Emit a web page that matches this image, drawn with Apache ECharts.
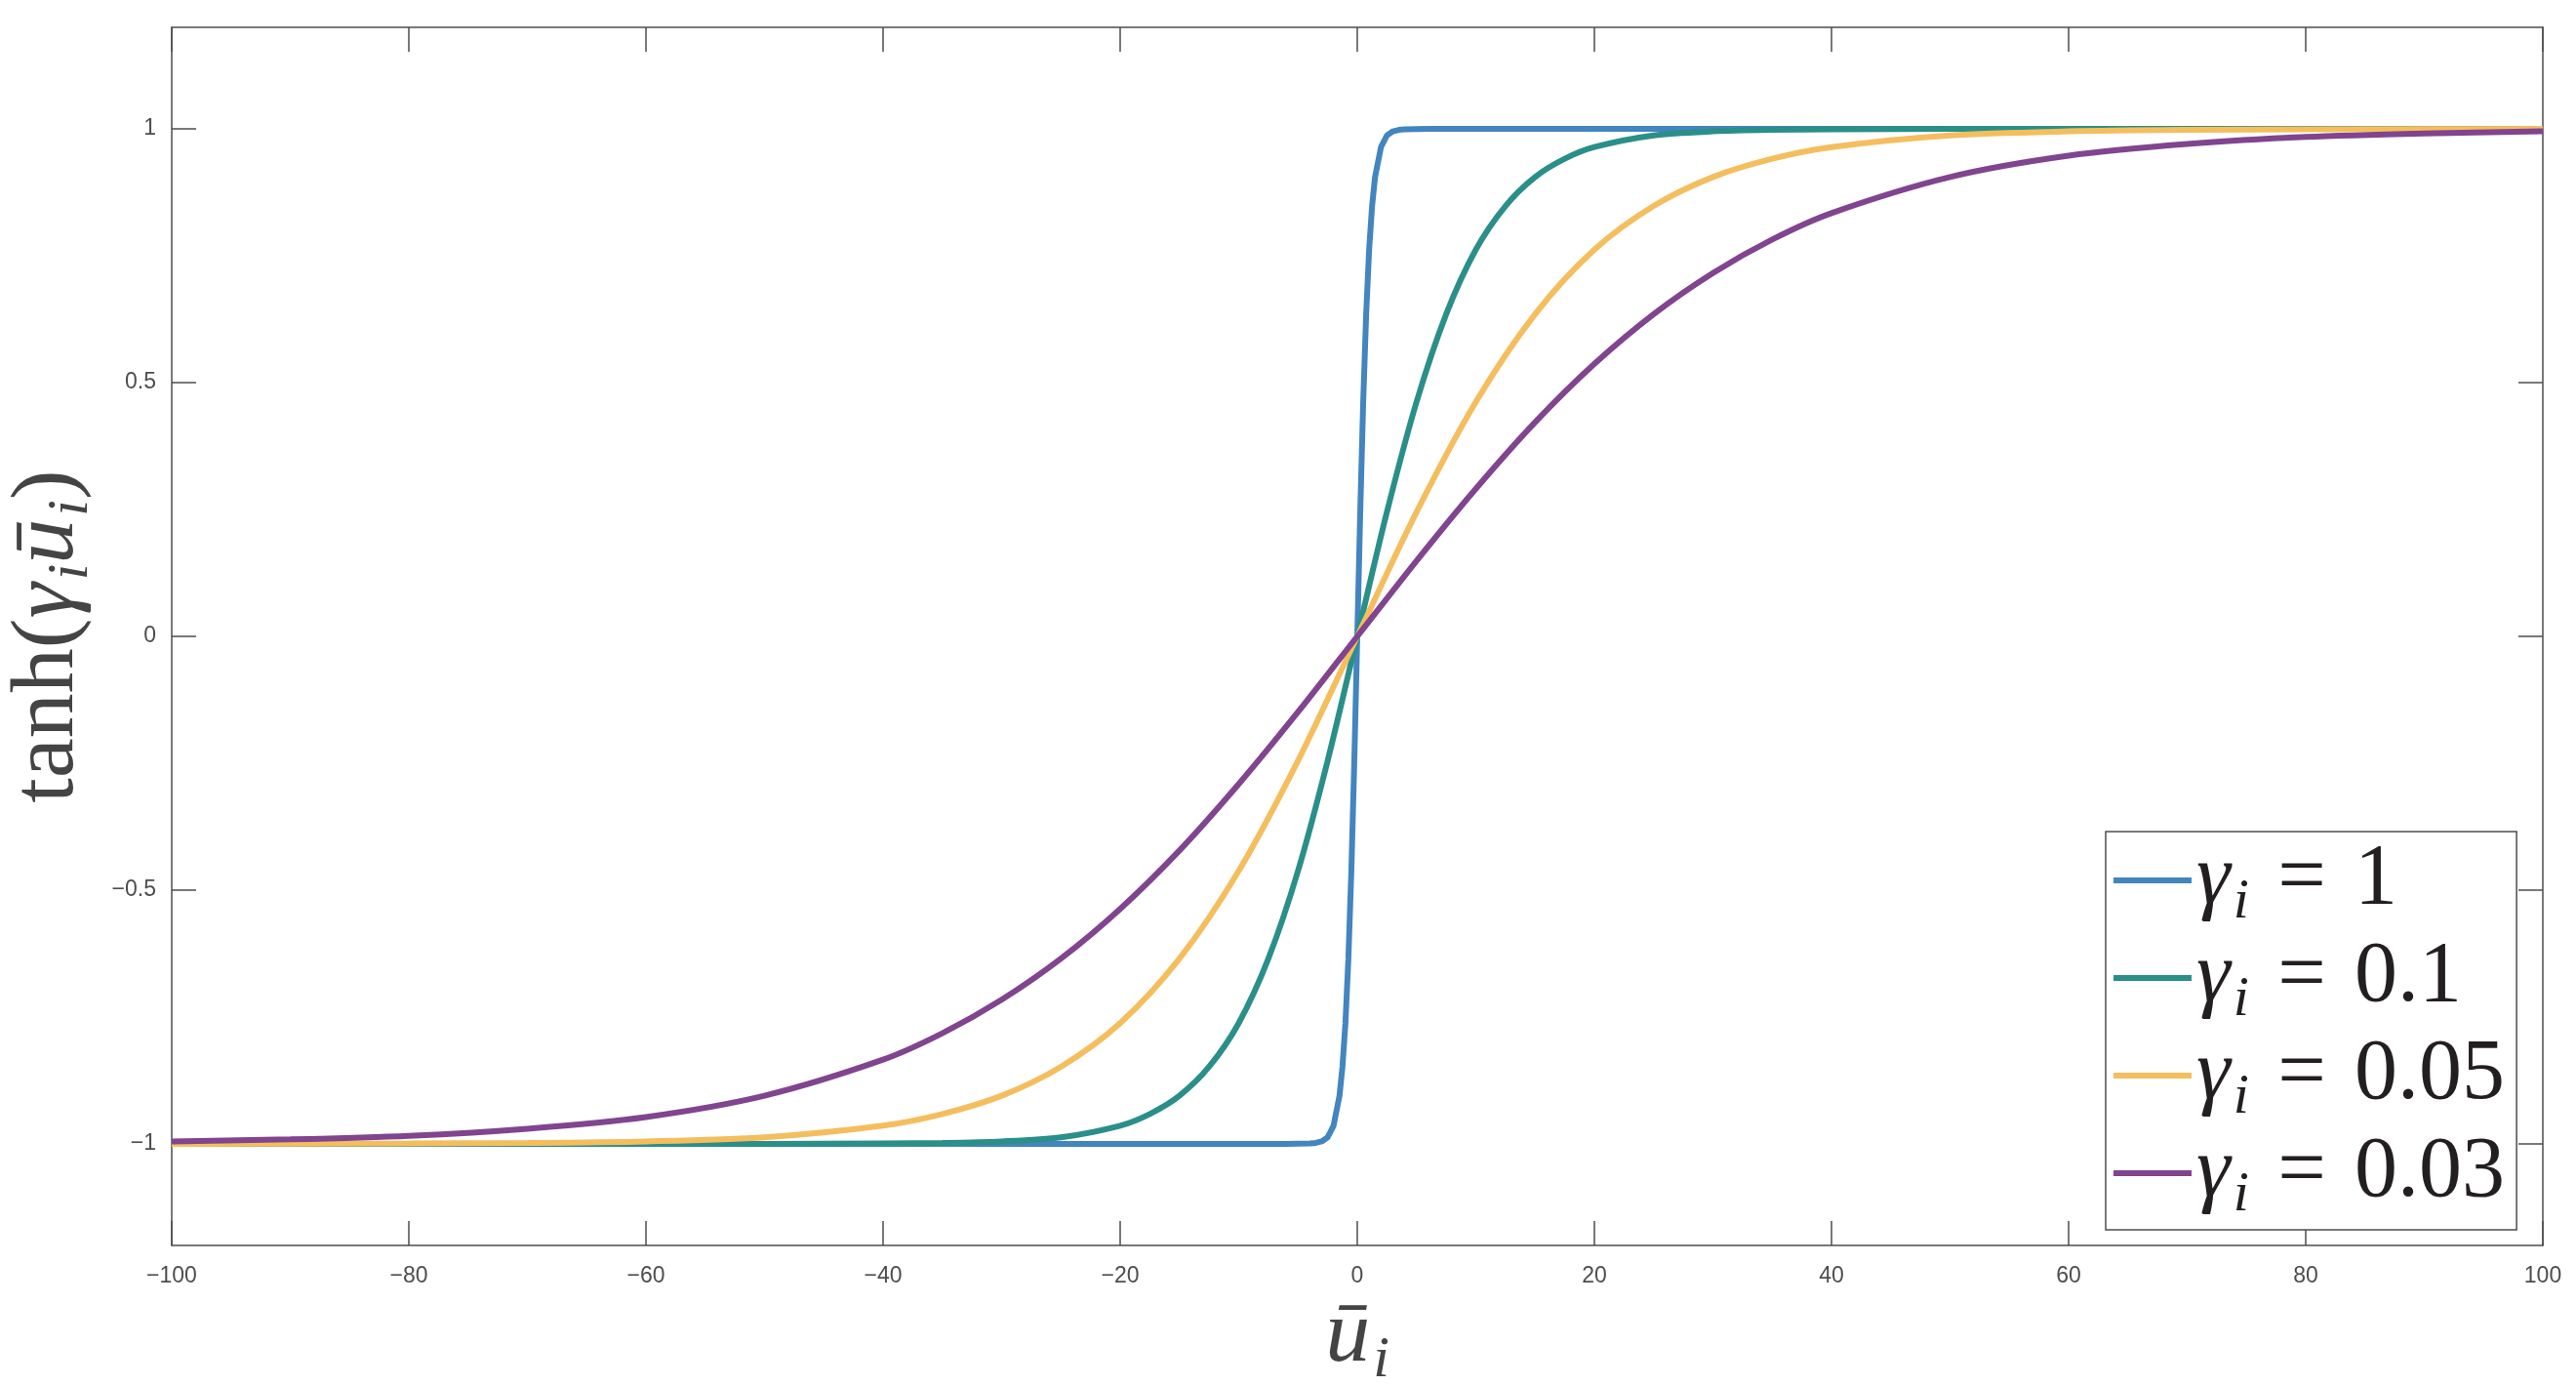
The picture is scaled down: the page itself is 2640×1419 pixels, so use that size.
<!DOCTYPE html>
<html>
<head>
<meta charset="utf-8">
<script src="https://cdn.jsdelivr.net/npm/echarts@6/dist/echarts.min.js"></script>
<style>html,body{margin:0;padding:0;background:#fff}#c{width:2640px;height:1419px}</style>
</head>
<body>
<div id="c"></div>
<script>
// ---- data ----
const xTicks = [-100, -80, -60, -40, -20, 0, 20, 40, 60, 80, 100];
const yTicks = [-1, -0.5, 0, 0.5, 1];
const seriesNames = ['γ=1', 'γ=0.1', 'γ=0.05', 'γ=0.03'];
const legendValues = ['1', '0.1', '0.05', '0.03'];

const xG1 = [-100, -6, -4, -3.5, -3, -2.5, -2, -1.5, -1.25, -1, -0.75, -0.5, -0.25, 0, 0.25, 0.5, 0.75, 1, 1.25, 1.5, 2, 2.5, 3, 3.5, 4, 6, 100];
const yG1 = [-1, -1, -0.999, -0.998, -0.995, -0.987, -0.964, -0.905, -0.848, -0.762, -0.635, -0.462, -0.245, 0, 0.245, 0.462, 0.635, 0.762, 0.848, 0.905, 0.964, 0.987, 0.995, 0.998, 0.999, 1, 1];

const xG01 = [-100, -80, -60, -50, -40, -35, -30, -25, -20, -17.5, -15, -12.5, -10, -7.5, -5, -2.5, 0, 2.5, 5, 7.5, 10, 12.5, 15, 17.5, 20, 25, 30, 35, 40, 50, 60, 80, 100];
const yG01 = [-1, -1, -1, -1, -0.999, -0.998, -0.995, -0.987, -0.964, -0.941, -0.905, -0.848, -0.762, -0.635, -0.462, -0.245, 0, 0.245, 0.462, 0.635, 0.762, 0.848, 0.905, 0.941, 0.964, 0.987, 0.995, 0.998, 0.999, 1, 1, 1, 1];

const xG005 = [-100, -80, -70, -60, -50, -40, -35, -30, -25, -20, -15, -10, -5, 0, 5, 10, 15, 20, 25, 30, 35, 40, 50, 60, 70, 80, 100];
const yG005 = [-1, -0.999, -0.998, -0.995, -0.987, -0.964, -0.941, -0.905, -0.848, -0.762, -0.635, -0.462, -0.245, 0, 0.245, 0.462, 0.635, 0.762, 0.848, 0.905, 0.941, 0.964, 0.987, 0.995, 0.998, 0.999, 1];

const xG003 = [-100, -90, -80, -70, -60, -50, -40, -35, -30, -25, -20, -15, -10, -5, 0, 5, 10, 15, 20, 25, 30, 35, 40, 50, 60, 70, 80, 90, 100];
const yG003 = [-0.995, -0.991, -0.984, -0.970, -0.947, -0.905, -0.834, -0.782, -0.716, -0.635, -0.537, -0.422, -0.291, -0.149, 0, 0.149, 0.291, 0.422, 0.537, 0.635, 0.716, 0.782, 0.834, 0.905, 0.947, 0.970, 0.984, 0.991, 0.995];

const colors = ['#4285bf', '#2a8f88', '#f4be5e', '#81448f'];
// ---------------------------------------

const xsList = [xG1, xG01, xG005, xG003];
const ysList = [yG1, yG01, yG005, yG003];
const smoothList = [false, 0.3, 0.3, 0.3];
const zip = (xs, ys) => xs.map((x, i) => [x, ys[i]]);

const axisColor = '#4d4d4d';
const tickFont = {fontFamily: 'Liberation Sans', fontSize: 23, color: axisColor};
const minusFmt = v => String(v).replace('-', '\u2212');

const serifMain = {fontFamily: 'Liberation Serif', fontSize: 88, color: '#231f20', lineHeight: 84, verticalAlign: 'middle'};
const serifIt = Object.assign({}, serifMain, {fontStyle: 'italic'});
const serifSub = {fontFamily: 'Liberation Serif', fontStyle: 'italic', fontSize: 58, color: '#231f20', lineHeight: 48, padding: [36, 0, 0, 3], verticalAlign: 'top'};

const nameMain = Object.assign({}, serifMain, {color: '#444', fontSize: 92});
const nameIt = Object.assign({}, serifIt, {color: '#444', fontSize: 92});
const nameSub = Object.assign({}, serifSub, {color: '#444', fontSize: 60});

const tickLine = {color: axisColor, width: 1.5};

function axisCommon(extra) {
  return Object.assign({
    type: 'value',
    axisLine: {show: true, onZero: false, lineStyle: tickLine},
    axisTick: {show: true, inside: true, length: 25, lineStyle: tickLine},
    splitLine: {show: false}
  }, extra);
}

const chart = echarts.init(document.getElementById('c'), null, {renderer: 'canvas'});
chart.setOption({
  animation: false,
  backgroundColor: '#fff',
  color: colors,
  grid: {left: 176, top: 28, width: 2430, height: 1248, containLabel: false, outerBoundsMode: 'none'},
  xAxis: [
    axisCommon({
      position: 'bottom', min: xTicks[0], max: xTicks[xTicks.length - 1], interval: 20,
      axisLabel: Object.assign({margin: 20, formatter: minusFmt}, tickFont),
      name: '{u|ū}{s|i}', nameLocation: 'middle', nameGap: 52,
      nameTextStyle: {rich: {u: nameIt, s: nameSub}}
    }),
    axisCommon({
      position: 'top', min: xTicks[0], max: xTicks[xTicks.length - 1], interval: 20,
      axisLabel: {show: false}
    })
  ],
  yAxis: [
    axisCommon({
      position: 'left', min: -1.2, max: 1.2,
      axisLabel: Object.assign({margin: 16, formatter: minusFmt, customValues: yTicks}, tickFont),
      axisTick: {show: true, inside: true, length: 25, lineStyle: tickLine, customValues: yTicks},
      name: '{r|tanh(}{g|γ}{s|i}{u|ū}{s|i}{r|)}', nameLocation: 'middle', nameGap: 60, nameRotate: 90,
      nameTextStyle: {rich: {r: nameMain, g: nameIt, u: nameIt, s: nameSub}}
    }),
    axisCommon({
      position: 'right', min: -1.2, max: 1.2,
      axisLabel: {show: false},
      axisTick: {show: true, inside: true, length: 25, lineStyle: tickLine, customValues: yTicks}
    })
  ],
  legend: {
    left: 2158, top: 852, orient: 'vertical',
    backgroundColor: '#fff', borderColor: axisColor, borderWidth: 1.5,
    padding: [6, 12, 6, 8], itemGap: 4, itemWidth: 80, itemHeight: 6,
    icon: 'rect', align: 'left',
    formatter: name => '{g|γ}{s|i}{r| \u200A= \u200A' + legendValues[seriesNames.indexOf(name)] + '}',
    textStyle: {rich: {g: serifIt, s: serifSub, r: serifMain}},
    data: seriesNames
  },
  series: seriesNames.map((n, k) => ({
    name: n, type: 'line', xAxisIndex: 0, yAxisIndex: 0,
    data: zip(xsList[k], ysList[k]),
    showSymbol: false, symbol: 'none',
    smooth: smoothList[k],
    lineStyle: {width: 6, color: colors[k]},
    itemStyle: {color: colors[k]}
  }))
});
</script>
</body>
</html>
